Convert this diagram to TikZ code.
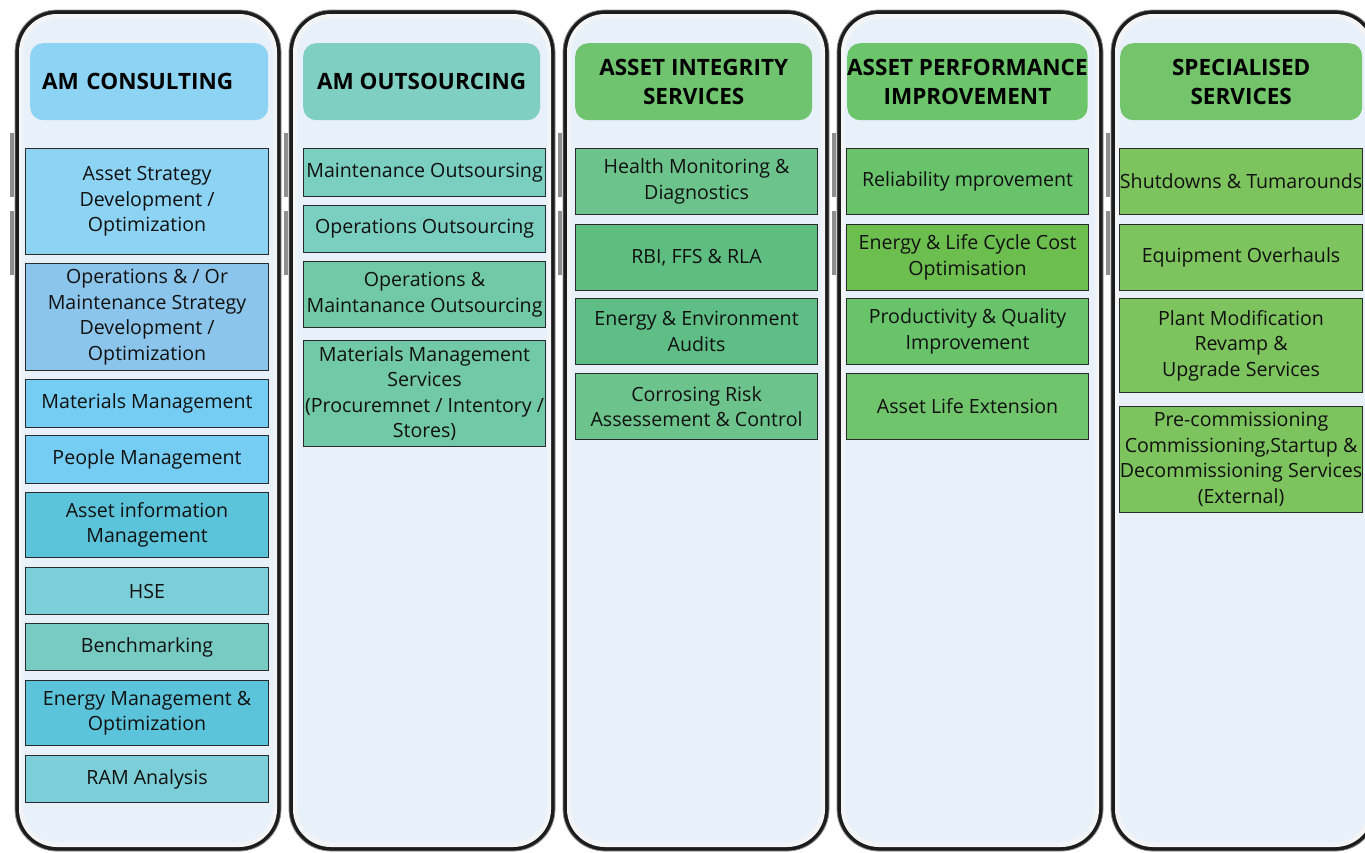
\documentclass[tikz,border=0pt]{standalone}
\usepackage{fontspec}
\setmainfont{Open Sans}
\definecolor{framecol}{HTML}{1C1C1C}
\definecolor{frameedge}{HTML}{8A8A8A}
\definecolor{bandcol}{HTML}{F3F4F6}
\definecolor{screencol}{HTML}{E8F0FA}
\definecolor{btncol}{HTML}{8E8E8E}
\definecolor{boxline}{HTML}{2A2A2A}
\definecolor{txt}{HTML}{111111}
\definecolor{hA}{HTML}{8DD3F3}
\definecolor{hB}{HTML}{7FCFC3}
\definecolor{hC}{HTML}{70C46F}
\definecolor{hD}{HTML}{6CC56A}
\definecolor{hE}{HTML}{73C46A}
\definecolor{aA}{HTML}{8DD3F4}
\definecolor{aB}{HTML}{8CC5EB}
\definecolor{aC}{HTML}{76CDF3}
\definecolor{aD}{HTML}{5BC4DA}
\definecolor{aE}{HTML}{7CCFD8}
\definecolor{aF}{HTML}{78CBC2}
\definecolor{bA}{HTML}{7BCFC0}
\definecolor{bB}{HTML}{72C9AA}
\definecolor{cA}{HTML}{6CC48C}
\definecolor{cB}{HTML}{5EBE81}
\definecolor{cC}{HTML}{5EBE86}
\definecolor{dA}{HTML}{68C36A}
\definecolor{dB}{HTML}{6CBF4F}
\definecolor{dC}{HTML}{70C46B}
\definecolor{eA}{HTML}{7DC35E}
\tikzset{
  svc/.style={draw=boxline, line width=1.1pt, inner sep=0pt, anchor=north west,
    align=center, text=txt, font=\fontsize{19.6}{25.5}\selectfont},
  head/.style={rounded corners=13pt, inner sep=0pt, anchor=north west,
    align=center, text=black, font=\fontsize{22.5}{29}\selectfont\bfseries,
    minimum height=77pt},
}
\begin{document}
\begin{tikzpicture}[x=1pt,y=-1pt]
\useasboundingbox (0,0) rectangle (1365,852);
\fill[white] (0,0) rectangle (1365,852);
\begin{scope}
\clip (0,0) rectangle (1365,852);
\foreach \i in {0,...,4}{
  \pgfmathsetmacro{\L}{15+274*\i}
  \pgfmathsetmacro{\R}{\L+266}
  \fill[btncol] (\L-5,133) rectangle (\L-1,197);
  \fill[btncol] (\L-5,211) rectangle (\L-1,275);
  \fill[framecol, draw=frameedge, line width=0.8pt, rounded corners=42pt] (\L,10) rectangle (\R,851);
  \fill[bandcol, rounded corners=38pt] (\L+4,14) rectangle (\R-4,847);
  \fill[screencol, rounded corners=35pt] (\L+8,19) rectangle (\R-8,842);
}
\end{scope}
% headers
\node[head, fill=hA, minimum width=238pt, text width=214pt, inner xsep=12pt, align=left] (h1) at (30,43) {AM CONSULTING};
\node[head, fill=hB, minimum width=237pt] (h2) at (303,43) {AM OUTSOURCING};
\node[head, fill=hC, minimum width=237pt] (h3) at (575,43) {ASSET INTEGRITY\\SERVICES};
\node[head, fill=hD, minimum width=240pt] (h4) at (847,43) {ASSET PERFORMANCE\\IMPROVEMENT};
\node[head, fill=hE, minimum width=242pt] (h5) at (1120,43) {SPECIALISED\\SERVICES};
% column 1
\node[svc, fill=aA, minimum width=243pt, minimum height=106pt] (a1) at (25,148) {Asset Strategy\\Development /\\Optimization};
\node[svc, fill=aB, minimum width=243pt, minimum height=107pt] (a2) at (25,263) {Operations \& / Or\\Maintenance Strategy\\Development /\\Optimization};
\node[svc, fill=aC, minimum width=243pt, minimum height=48pt] (a3) at (25,379) {Materials Management};
\node[svc, fill=aC, minimum width=243pt, minimum height=48pt] (a4) at (25,435) {People Management};
\node[svc, fill=aD, minimum width=243pt, minimum height=65pt] (a5) at (25,492) {Asset information\\Management};
\node[svc, fill=aE, minimum width=243pt, minimum height=47pt] (a6) at (25,567) {HSE};
\node[svc, fill=aF, minimum width=243pt, minimum height=47pt] (a7) at (25,623) {Benchmarking};
\node[svc, fill=aD, minimum width=243pt, minimum height=65pt] (a8) at (25,680) {Energy Management \&\\Optimization};
\node[svc, fill=aE, minimum width=243pt, minimum height=47pt] (a9) at (25,755) {RAM Analysis};
% column 2
\node[svc, fill=bA, minimum width=242pt, minimum height=48pt] (b1) at (303,148) {Maintenance Outsoursing};
\node[svc, fill=bA, minimum width=242pt, minimum height=47pt] (b2) at (303,205) {Operations Outsourcing};
\node[svc, fill=bB, minimum width=242pt, minimum height=66pt] (b3) at (303,261) {Operations \&\\Maintanance Outsourcing};
\node[svc, fill=bB, minimum width=242pt, minimum height=106pt] (b4) at (303,340) {Materials Management\\Services\\(Procuremnet / Intentory /\\Stores)};
% column 3
\node[svc, fill=cA, minimum width=242pt, minimum height=66pt] (c1) at (575,148) {Health Monitoring \&\\Diagnostics};
\node[svc, fill=cB, minimum width=242pt, minimum height=66pt] (c2) at (575,224) {RBI, FFS \& RLA};
\node[svc, fill=cC, minimum width=242pt, minimum height=66pt] (c3) at (575,298) {Energy \& Environment\\Audits};
\node[svc, fill=cA, minimum width=242pt, minimum height=66pt] (c4) at (575,373) {Corrosing Risk\\Assessement \& Control};
% column 4
\node[svc, fill=dA, minimum width=242pt, minimum height=66pt] (d1) at (846,148) {Reliability mprovement};
\node[svc, fill=dB, minimum width=242pt, minimum height=66pt] (d2) at (846,224) {Energy \& Life Cycle Cost\\Optimisation};
\node[svc, fill=dA, minimum width=242pt, minimum height=66pt] (d3) at (846,298) {Productivity \& Quality\\Improvement};
\node[svc, fill=dC, minimum width=242pt, minimum height=66pt] (d4) at (846,373) {Asset Life Extension};
% column 5
\node[svc, fill=eA, minimum width=243pt, minimum height=66pt] (e1) at (1119,148) {Shutdowns \& Tumarounds};
\node[svc, fill=eA, minimum width=243pt, minimum height=66pt] (e2) at (1119,224) {Equipment Overhauls};
\node[svc, fill=eA, minimum width=243pt, minimum height=94pt] (e3) at (1119,298) {Plant Modification\\Revamp \&\\Upgrade Services};
\node[svc, fill=eA, minimum width=243pt, minimum height=106pt] (e4) at (1119,406) {Pre-commissioning\\Commissioning,Startup \&\\Decommissioning Services\\(External)};
\end{tikzpicture}
\end{document}
